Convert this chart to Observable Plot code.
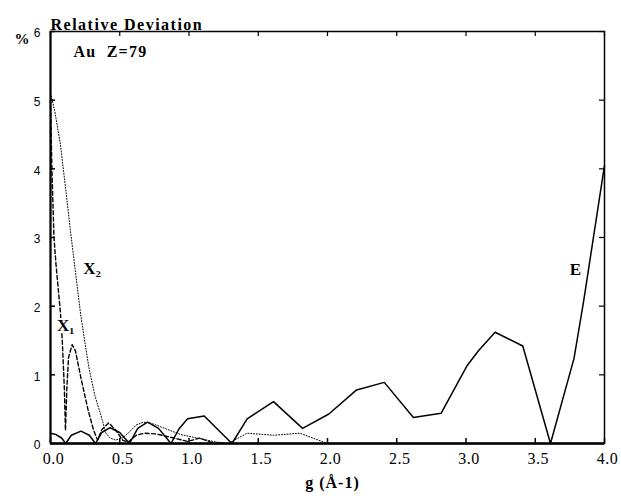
<!DOCTYPE html>
<html>
<head>
<meta charset="utf-8">
<script src="https://cdn.jsdelivr.net/npm/d3@7"></script>
<script src="https://cdn.jsdelivr.net/npm/@observablehq/plot@0.6"></script>
<style>
  html, body { margin: 0; padding: 0; background: #fff; }
  #chart svg { display: block; }
  #chart svg text { font-family: "Liberation Serif", "DejaVu Serif", serif !important; fill: #000; }
  #chart g[aria-label="x-axis tick label"] text { font-size: 16px !important; letter-spacing: 0.5px; }
  #chart g[aria-label="y-axis tick label"] text { font-family: "Liberation Sans", "DejaVu Sans", sans-serif !important; font-size: 12px !important; }
</style>
</head>
<body>
<div id="chart"></div>
<script>
// ---- data ----
const xTicks = [0, 0.5, 1, 1.5, 2, 2.5, 3, 3.5, 4];
const yTicks = [0, 1, 2, 3, 4, 5, 6];

// E (solid)
const gE = [0, 0.04, 0.08, 0.11, 0.15, 0.22, 0.28, 0.325, 0.37, 0.43, 0.50, 0.57, 0.63, 0.70, 0.78, 0.87, 0.93, 0.99, 1.11, 1.31, 1.42, 1.61, 1.82, 2.01, 2.21, 2.41, 2.62, 2.82, 3.01, 3.09, 3.21, 3.41, 3.61, 3.78, 3.85, 4.0];
const vE = [0.15, 0.13, 0.08, 0, 0.12, 0.18, 0.12, 0, 0.16, 0.23, 0.16, 0, 0.22, 0.31, 0.22, 0, 0.22, 0.36, 0.40, 0, 0.36, 0.61, 0.22, 0.43, 0.78, 0.89, 0.38, 0.44, 1.14, 1.35, 1.62, 1.42, 0, 1.24, 2.08, 4.05];

// X1 (dashed)
const gX1 = [0, 0.01, 0.025, 0.04, 0.072, 0.085, 0.1, 0.108, 0.118, 0.13, 0.156, 0.18, 0.22, 0.27, 0.31, 0.34, 0.37, 0.42, 0.47, 0.52, 0.56, 0.62, 0.68, 0.76, 0.87, 0.99, 1.08, 1.18];
const vX1 = [5.0, 4.0, 3.0, 2.6, 1.9, 1.5, 0.8, 0.19, 0.8, 1.25, 1.44, 1.35, 0.95, 0.5, 0.2, 0.05, 0.2, 0.3, 0.2, 0.05, 0.02, 0.12, 0.15, 0.14, 0.09, 0.03, 0.08, 0];

// X2 (dotted)
const gX2 = [0, 0.03, 0.072, 0.11, 0.144, 0.18, 0.217, 0.25, 0.277, 0.32, 0.36, 0.40, 0.43, 0.47, 0.52, 0.56, 0.62, 0.67, 0.72, 0.80, 0.94, 1.08, 1.20, 1.28, 1.31, 1.42, 1.61, 1.80, 2.0];
const vX2 = [5.1, 4.85, 4.35, 3.7, 3.1, 2.5, 1.89, 1.45, 1.11, 0.7, 0.44, 0.15, 0.08, 0.05, 0.08, 0.15, 0.27, 0.31, 0.30, 0.24, 0.13, 0.07, 0.02, 0, 0.03, 0.15, 0.12, 0.15, 0];

const curveNames = ["X₂", "X₁", "E"];
const curveLabelG = [0.30, 0.11, 3.79];
const curveLabelV = [2.55, 1.72, 2.53];

const titleText = "Relative Deviation";
const unitText = "%";
const elementText = "Au  Z=79";
const xLabelText = "g (Å-1)";

// ---- build tables ----
const toRows = (gs, vs) => gs.map((g, i) => ({g, v: vs[i]}));
const rowsE = toRows(gE, vE);
const rowsX1 = toRows(gX1, vX1);
const rowsX2 = toRows(gX2, vX2);
const labelRows = curveNames.map((name, i) => ({name, g: curveLabelG[i], v: curveLabelV[i]}));

const W = 621, H = 499, ML = 50, MR = 17, MT = 31, MB = 56;
const innerW = W - ML - MR, innerH = H - MT - MB, tickLen = 5;

const chart = Plot.plot({
  width: W,
  height: H,
  marginLeft: ML,
  marginRight: MR,
  marginTop: MT,
  marginBottom: MB,
  style: {background: "#fff", color: "#000"},
  x: {domain: [0, 4]},
  y: {domain: [0, 6]},
  marks: [
    Plot.frame({stroke: "#000", strokeWidth: 1.5}),
    Plot.ruleY([0], {stroke: "#000", strokeWidth: 2.5}),
    Plot.ruleX([0], {stroke: "#000", strokeWidth: 2}),
    // inward ticks on all four sides
    Plot.tickX(xTicks, {x: d => d, insetTop: innerH - tickLen, stroke: "#000", strokeWidth: 1.5}),
    Plot.tickX(xTicks, {x: d => d, insetBottom: innerH - tickLen, stroke: "#000", strokeWidth: 1.2}),
    Plot.tickY(yTicks, {y: d => d, insetRight: innerW - tickLen, stroke: "#000", strokeWidth: 1.5}),
    Plot.tickY(yTicks, {y: d => d, insetLeft: innerW - tickLen, stroke: "#000", strokeWidth: 1.2}),
    // tick labels
    Plot.axisX(xTicks, {anchor: "bottom", tickSize: 0, tickPadding: 9, tickFormat: d3.format(".1f"), dx: 3, label: null}),
    Plot.axisY(yTicks, {anchor: "left", tickSize: 0, tickPadding: 10, tickFormat: d3.format("d"), dy: 2, label: null}),

    Plot.line(rowsX2, {x: "g", y: "v", stroke: "#000", strokeWidth: 1, strokeDasharray: "1,1.8"}),
    Plot.line(rowsX1, {x: "g", y: "v", stroke: "#000", strokeWidth: 1.4, strokeDasharray: "4,2.5"}),
    Plot.line(rowsE, {x: "g", y: "v", stroke: "#000", strokeWidth: 1.5}),

    Plot.text(labelRows, {x: "g", y: "v", text: "name", fontSize: 17, fontWeight: "bold",
      fill: "#000", stroke: "#fff", strokeWidth: 4, paintOrder: "stroke"}),

    Plot.text([elementText], {frameAnchor: "top-left", dx: 23, dy: 14, textAnchor: "start", fontSize: 16, fontWeight: "bold"}),
    Plot.text([titleText], {frameAnchor: "top-left", dx: 0, dy: -13, textAnchor: "start", fontSize: 16, fontWeight: "bold"}),
    Plot.text([unitText], {frameAnchor: "top-left", dx: -36, dy: 2, fontSize: 15, fontWeight: "bold"}),
    Plot.text([xLabelText], {frameAnchor: "bottom", dx: 5, dy: 44, fontSize: 16, fontWeight: "bold"})
  ]
});
document.getElementById("chart").appendChild(chart);

// letter spacing to match the reference's wide typesetting
const spacing = new Map([[titleText, "1.5px"], [elementText, "1.2px"], [xLabelText, "1px"]]);
d3.select(chart).selectAll("text")
  .filter(function() { return spacing.has(this.textContent); })
  .style("letter-spacing", function() { return spacing.get(this.textContent); });
</script>
</body>
</html>
